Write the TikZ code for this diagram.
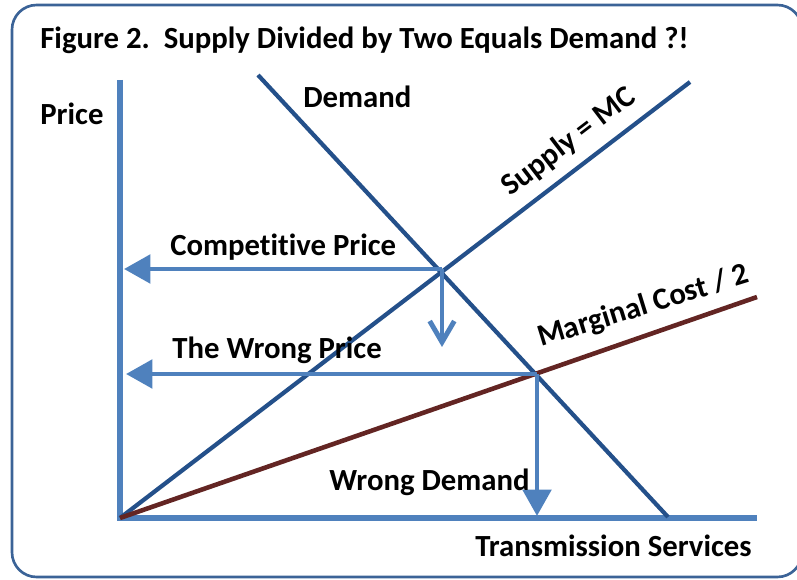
\documentclass[tikz,border=0pt]{standalone}
\usepackage{fontspec}
\setmainfont{Carlito}[Ligatures=NoCommon]
\usetikzlibrary{arrows.meta}

\definecolor{axisblue}{HTML}{4F81BD}
\definecolor{curveblue}{HTML}{24508A}
\definecolor{mcbrown}{HTML}{632523}
\definecolor{frameblue}{HTML}{3B6397}

\begin{document}
\begin{tikzpicture}[x=0.02cm, y=-0.02cm,
        lbl/.style={font=\fontsize{17.5}{21}\selectfont\bfseries, text=black, inner sep=0pt},
        axis/.style={axisblue, line width=3.7pt},
        curve/.style={curveblue, line width=2.4pt},
        toprice/.style={axisblue, line width=2.8pt, -{Triangle[length=15pt, width=16pt]}},
        pricedrop/.style={axisblue, line width=2.8pt, -{Straight Barb[length=12pt, width=14pt]}}]
    \useasboundingbox (0, 0) rectangle (797, 580);
    \draw [frameblue, line width=1.5pt, rounded corners=14pt] (12, 5) rectangle (802, 577);

    % points of the diagram
    \coordinate (O) at (120, 518);
    \coordinate (ytop) at (120, 80);
    \coordinate (xend) at (757, 518);
    \coordinate (dtop) at (258, 75);
    \coordinate (dbot) at (668, 517);
    \coordinate (stop) at (690, 82);
    \coordinate (mcend) at (757, 297);
    \coordinate (eq) at (442, 269);
    \coordinate (wrongeq) at (537, 374);
    \coordinate (eqdown) at (442, 347);
    \coordinate (yeq) at (124, 269);
    \coordinate (ywrong) at (126, 374);
    \coordinate (xwrong) at (537, 516);

    % axes
    \draw [axis] (ytop) -- (120, 521);
    \draw [axis] (117, 518) -- (xend);

    % demand, supply and half the marginal cost
    \draw [curve] (dtop) -- (dbot);
    \draw [curve] (O) -- (stop) node [lbl, above=6pt, pos=0.815, sloped] (supplylbl) {Supply = MC};
    \draw [mcbrown, line width=2.6pt] (O) -- (mcend) node [lbl, above=7pt, pos=0.835, sloped, rotate=-2] (mclbl) {Marginal Cost / 2};

    % prices and quantities
    \draw [toprice] (eq) -- (yeq);
    \draw [toprice] (wrongeq) -- (ywrong);
    \draw [toprice] (wrongeq) -- (xwrong);
    \draw [pricedrop] (eq) -- (eqdown);

    % text
    \node [lbl, anchor=base west] (title) at (40, 49) {Figure 2.\ \ Supply Divided by Two Equals Demand ?!};
    \node [lbl, anchor=base west] (price) at (40, 125) {Price};
    \node [lbl, anchor=base west] (demand) at (303, 108) {Demand};
    \node [lbl, anchor=base west] (comp) at (170, 256) {Competitive Price};
    \node [lbl, anchor=base west] (wrong) at (172, 358) {The Wrong Price};
    \node [lbl, anchor=base east] (wdemand) at (530, 490) {Wrong Demand};
    \node [lbl, anchor=base east] (services) at (752, 556) {Transmission Services};
\end{tikzpicture}
\end{document}
